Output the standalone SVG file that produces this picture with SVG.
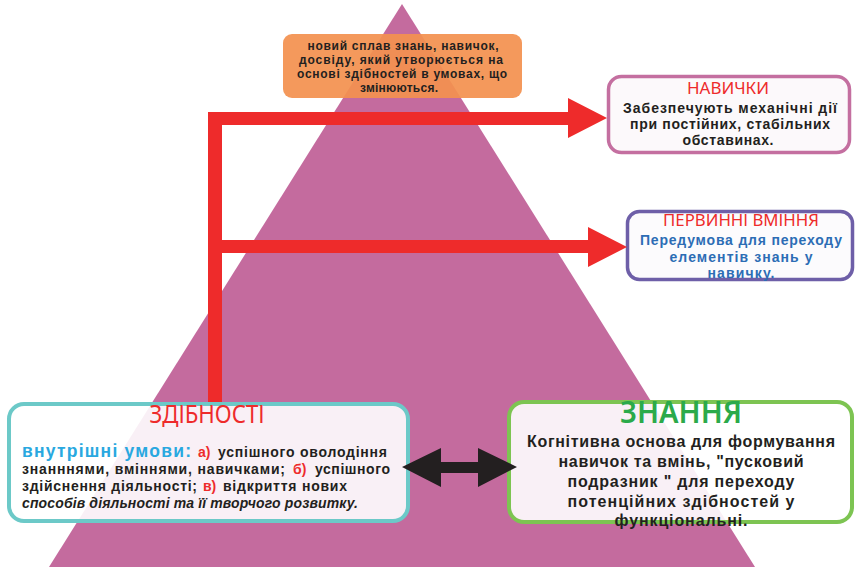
<svg xmlns="http://www.w3.org/2000/svg" width="856" height="567" viewBox="0 0 856 567">
<style>
.t{font-family:"Liberation Sans","Noto Sans","DejaVu Sans",sans-serif;font-weight:bold;fill:#231F20}
.tt{font-family:"Noto Sans","Open Sans","DejaVu Sans",sans-serif;font-weight:normal;fill:#EE2B2B}
.box{stroke-width:3.5}
.red{fill:#EE2B2B}
.c{text-anchor:middle}
</style>
<rect width="856" height="567" fill="#FFFFFF"/>
<polygon id="pyramid" points="402,4 49,567 755,567" fill="#C46B9E"/>

<g id="node-orange">
<rect x="283" y="34" width="239" height="64" rx="9" fill="#F39150" fill-opacity="0.93"/>
<text class="t c" font-size="12" x="403" y="50" textLength="191" lengthAdjust="spacing">новий сплав знань, навичок,</text>
<text class="t c" font-size="12" x="401" y="64" textLength="204" lengthAdjust="spacing">досвіду, який утворюється на</text>
<text class="t c" font-size="12" x="402" y="78" textLength="210" lengthAdjust="spacing">основі здібностей в умовах, що</text>
<text class="t c" font-size="12" x="399" y="92" textLength="78" lengthAdjust="spacing">змінюються.</text>
</g>

<g id="node-navychky">
<rect class="box" x="608.5" y="76.5" width="241" height="76" rx="13" fill="#FCF9FB" stroke="#C46FA0"/>
<text class="tt c" font-size="16" x="728" y="94" textLength="82" lengthAdjust="spacingAndGlyphs">НАВИЧКИ</text>
<text class="t c" font-size="14" x="730" y="113" textLength="214" lengthAdjust="spacing">Забезпечують механічні дії</text>
<text class="t c" font-size="14" x="730" y="129" textLength="200" lengthAdjust="spacing">при постійних, стабільних</text>
<text class="t c" font-size="14" x="728" y="145" textLength="91" lengthAdjust="spacing">обставинах.</text>
</g>

<g id="node-pervynni">
<rect class="box" x="627.5" y="211.5" width="225" height="68" rx="12" fill="#FCFBFD" stroke="#6E5FA8"/>
<text class="tt c" font-size="16" x="741" y="226" textLength="156" lengthAdjust="spacingAndGlyphs">ПЕРВИННІ ВМІННЯ</text>
<text class="t c" font-size="14" x="741" y="245" textLength="202" lengthAdjust="spacing" style="fill:#2C6DB5">Передумова для переходу</text>
<text class="t c" font-size="14" x="741" y="261.5" textLength="143" lengthAdjust="spacing" style="fill:#2C6DB5">елементів знань у</text>
<text class="t c" font-size="14" x="741" y="278" textLength="67" lengthAdjust="spacing" style="fill:#2C6DB5">навичку.</text>
</g>

<g id="connectors">
<rect class="red" x="208" y="112" width="14" height="290"/>
<polygon class="red" points="208,112 568,112 568,98 607,118 568,138 568,125 208,125"/>
<polygon class="red" points="222,240 588,240 588,227 627,247 588,267 588,253 222,253"/>
</g>

<g id="node-zdibnosti">
<rect x="9" y="404" width="399" height="117" rx="15" fill="#FFFFFF" fill-opacity="0.9" stroke="#6CC9C8" stroke-width="4"/>
<text class="tt c" font-size="25" x="207" y="423" textLength="115" lengthAdjust="spacingAndGlyphs">ЗДІБНОСТІ</text>
<text class="t" font-size="17.5" x="22" y="457" textLength="169" lengthAdjust="spacing" style="fill:#29A8E0">внутрішні умови:</text>
<text class="t red" font-size="14" x="198" y="457">а)</text>
<text class="t" font-size="14" x="218" y="457" textLength="169" lengthAdjust="spacing">успішного оволодіння</text>
<text class="t" font-size="14" x="22" y="474" textLength="263" lengthAdjust="spacing">знанннями, вміннями, навичками;</text>
<text class="t red" font-size="14" x="293" y="474">б)</text>
<text class="t" font-size="14" x="315" y="474" textLength="75" lengthAdjust="spacing">успішного</text>
<text class="t" font-size="14" x="22" y="491" textLength="175" lengthAdjust="spacing">здійснення діяльності;</text>
<text class="t red" font-size="14" x="203" y="491">в)</text>
<text class="t" font-size="14" x="223" y="491" textLength="124" lengthAdjust="spacing">відкриття нових</text>
<text class="t" font-size="14" x="22" y="508" textLength="336" lengthAdjust="spacing" font-style="italic">способів діяльності та її творчого розвитку.</text>
</g>

<g id="node-znannia">
<rect x="509" y="402" width="343" height="120" rx="15" fill="#FFFFFF" fill-opacity="0.9" stroke="#7DC452" stroke-width="4"/>
<text class="tt c" font-size="30" x="681" y="423" textLength="122" lengthAdjust="spacingAndGlyphs" style="fill:#2BAA4A;font-weight:600">ЗНАННЯ</text>
<text class="t c" font-size="16" x="681" y="447" textLength="308" lengthAdjust="spacing">Когнітивна основа для формування</text>
<text class="t c" font-size="16" x="681" y="467" textLength="245" lengthAdjust="spacing">навичок та вмінь, "пусковий</text>
<text class="t c" font-size="16" x="681" y="487" textLength="227" lengthAdjust="spacing">подразник " для переходу</text>
<text class="t c" font-size="16" x="681" y="507" textLength="227" lengthAdjust="spacing">потенційних здібностей у</text>
<text class="t c" font-size="16" x="681" y="526" textLength="133" lengthAdjust="spacing">функціональні.</text>
</g>

<g id="connector-double">
<polygon points="402,467 441,448 441,462 478,462 478,448 517,467 478,487 478,473 441,473 441,487" fill="#231F20"/>
</g>
</svg>
